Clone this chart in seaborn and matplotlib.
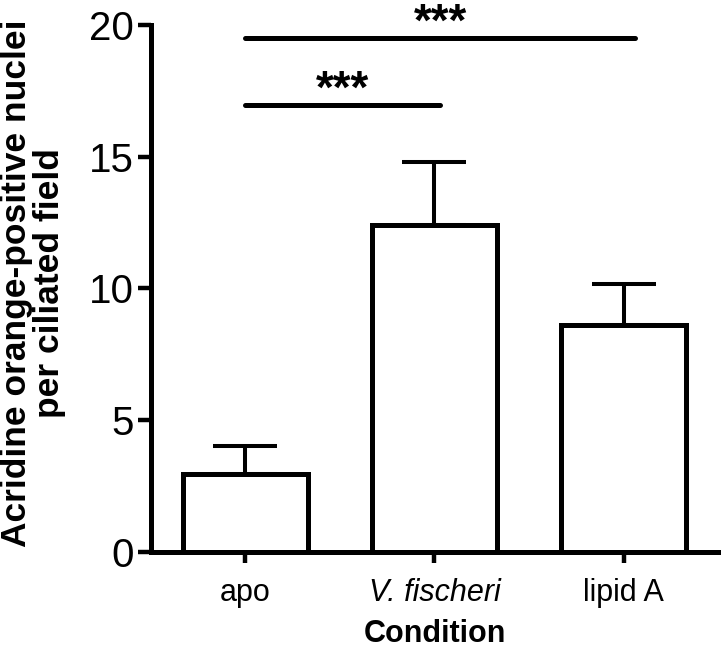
import numpy as np
import pandas as pd
import matplotlib
matplotlib.use("Agg")
import matplotlib.pyplot as plt
import seaborn as sns

conditions = ["apo", "V. fischeri", "lipid A"]
means = [2.97, 12.4, 8.61]
sem = [1.03, 2.4, 1.54]

# significance brackets: (x start, x end, height)
sig_x0 = [0, 0]
sig_x1 = [2.06, 1.03]
sig_y = [19.5, 16.95]
sig_text = ["***", "***"]

sns.set_style("ticks", {"axes.edgecolor": "black", "xtick.color": "black",
                        "ytick.color": "black", "text.color": "black",
                        "axes.labelcolor": "black"})
plt.rcParams["font.family"] = ["Liberation Sans", "DejaVu Sans"]

df = pd.DataFrame({"Condition": conditions, "value": means})

fig = plt.figure(figsize=(7.22, 6.6), dpi=100)
ax = fig.add_axes([0.209, 0.164, 0.7855, 0.798])

sns.barplot(data=df, x="Condition", y="value", color="white", edgecolor="black",
            linewidth=3.6, width=0.66, errorbar=None, ax=ax)
for p in ax.patches:
    p.set_facecolor("white")

ax.errorbar(range(len(conditions)), means, yerr=[np.zeros(len(sem)), sem],
            fmt="none", ecolor="black", elinewidth=2.9, capsize=23, capthick=2.9,
            zorder=1)

for x0, x1, y, t in zip(sig_x0, sig_x1, sig_y, sig_text):
    ax.plot([x0, x1], [y, y], color="black", lw=3.6, solid_capstyle="round",
            clip_on=False)
    ax.annotate(t, xy=((x0 + x1) / 2, y), xytext=(0, 2), textcoords="offset points",
                ha="center", va="baseline", fontsize=33, fontweight="bold",
                annotation_clip=False)

ax.set_ylim(0, 20)
ax.set_xlim(-0.5, 2.5)
ax.set_yticks([0, 5, 10, 15, 20])
sns.despine(ax=ax)
for s in ["left", "bottom"]:
    ax.spines[s].set_linewidth(3.6)
ax.tick_params(axis="y", length=9.5, width=3.2, labelsize=29, pad=3)
ax.tick_params(axis="x", length=8, width=3.2, labelsize=22, pad=11)
ax.get_xticklabels()[1].set_style("italic")

ax.set_xlabel("Condition", fontsize=22, fontweight="bold", labelpad=8)
ax.set_ylabel("Acridine orange-positive nuclei\nper ciliated field", fontsize=25.5,
              fontweight="bold", linespacing=1.0)
ax.yaxis.set_label_coords(-0.150, 0.51)

fig.savefig("out.png", dpi=100)
